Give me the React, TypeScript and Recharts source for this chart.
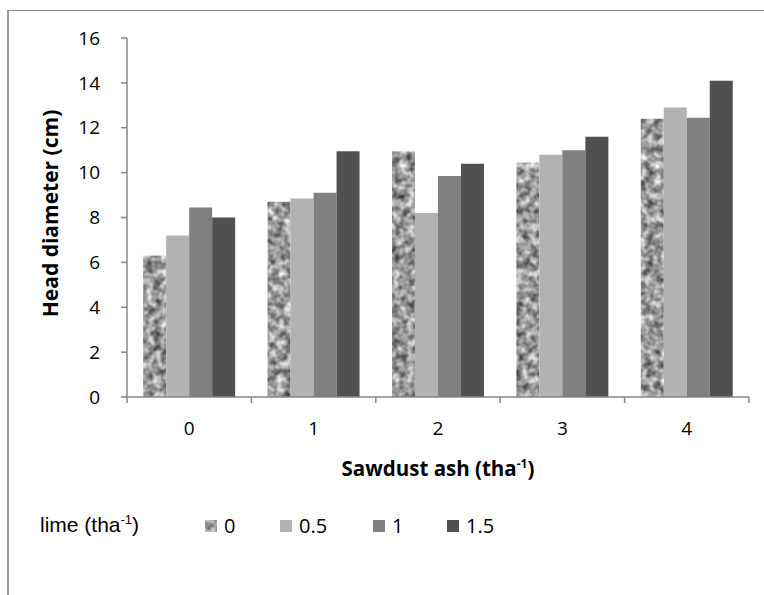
import React from 'react';
import { BarChart, Bar, XAxis, YAxis, Legend, Label } from 'recharts';

const categories = ['0', '1', '2', '3', '4'];
const lime0 = [6.3, 8.7, 10.95, 10.45, 12.4];
const lime05 = [7.2, 8.85, 8.2, 10.8, 12.9];
const lime1 = [8.45, 9.1, 9.85, 11.0, 12.45];
const lime15 = [8.0, 10.95, 10.4, 11.6, 14.1];
const limeLevels = ['0', '0.5', '1', '1.5'];
const yTicks = [0, 2, 4, 6, 8, 10, 12, 14, 16];
const boundaryTicks = [-0.5, 0.5, 1.5, 2.5, 3.5, 4.5];

const data = categories.map((c, i) => ({
  ash: c,
  l0: lime0[i],
  l05: lime05[i],
  l1: lime1[i],
  l15: lime15[i],
}));

const FONT = '"Open Sans", sans-serif';
const AXIS = '#868686';
const COLORS = ['#a9a9a9', '#b2b2b2', '#808080', '#505050'];
const KEYS = ['l0', 'l05', 'l1', 'l15'];

const GraniteFilter = ({ id, seed }: { id: string; seed: number }) => (
  <filter id={id} x="0" y="0" width="1" height="1" filterUnits="objectBoundingBox" colorInterpolationFilters="sRGB">
    <feTurbulence type="fractalNoise" baseFrequency="0.13" numOctaves={2} seed={seed} result="n" />
    <feColorMatrix
      in="n"
      type="matrix"
      values="1.05 0 0 0 0.08  1.05 0 0 0 0.08  1.05 0 0 0 0.08  0 0 0 0 1"
      result="g"
    />
    <feComposite in="g" in2="SourceGraphic" operator="in" />
  </filter>
);

const GraniteBar = (props: any) => {
  const { x, y, width, height, index } = props;
  if (!height || height <= 0) return null;
  const id = `granite-${index}`;
  return (
    <g>
      <defs>
        <GraniteFilter id={id} seed={index + 2} />
      </defs>
      <rect x={x} y={y} width={width} height={height} fill="#a9a9a9" filter={`url(#${id})`} />
    </g>
  );
};

const legendLeft = [205, 280, 373, 447];

const LegendContent = () => (
  <div style={{ position: 'relative', width: 764, height: 30, fontFamily: FONT, fontSize: 20, color: '#000' }}>
    <span
      style={{
        position: 'absolute',
        left: 40,
        top: 0,
        fontFamily: '"Liberation Sans", Arial, sans-serif',
        fontSize: 21,
        whiteSpace: 'nowrap',
      }}
    >
      lime (tha<sup style={{ fontSize: 13 }}>-1</sup>)
    </span>
    {limeLevels.map((lv, i) => (
      <span key={lv} style={{ position: 'absolute', left: legendLeft[i], top: 0, whiteSpace: 'nowrap', display: 'flex', alignItems: 'center' }}>
        {i === 0 ? (
          <svg width={12} height={12} style={{ display: 'block' }}>
            <defs>
              <GraniteFilter id="granite-legend" seed={7} />
            </defs>
            <rect x={0} y={0} width={12} height={12} fill="#aaa" filter="url(#granite-legend)" />
          </svg>
        ) : (
          <span style={{ display: 'block', width: 12, height: 12, background: COLORS[i] }} />
        )}
        <span style={{ marginLeft: 7, lineHeight: '28px' }}>{lv}</span>
      </span>
    ))}
  </div>
);

const XTitle = (props: any) => {
  const vb = props.viewBox || {};
  const cx = vb.x + vb.width / 2;
  return (
    <text x={cx} y={476} textAnchor="middle" fontFamily={FONT} fontSize={20.5} fontWeight="bold" fill="#000">
      Sawdust ash (tha
      <tspan fontSize={12} dy={-8}>-1</tspan>
      <tspan dy={8}>)</tspan>
    </text>
  );
};

const YTitle = (props: any) => {
  const vb = props.viewBox || {};
  const cy = vb.y + vb.height / 2;
  return (
    <text
      x={0}
      y={0}
      transform={`translate(58, ${cy - 4}) rotate(-90)`}
      textAnchor="middle"
      fontFamily={FONT}
      fontSize={21}
      fontWeight="bold"
      fill="#000"
    >
      Head diameter (cm)
    </text>
  );
};

export default function App() {
  return (
    <div style={{ position: 'absolute', left: 0, top: 0, width: 764, height: 595, background: '#fff', overflow: 'hidden' }}>
      <div
        style={{
          position: 'absolute',
          left: 7,
          top: 10,
          width: 800,
          height: 600,
          borderTop: '1px solid #8a8a8a',
          borderLeft: '2px solid #9a9a9a',
        }}
      />
      <div style={{ position: 'absolute', left: 0, top: 0 }}>
        <BarChart
          width={764}
          height={595}
          data={data}
          margin={{ top: 38, right: 15, bottom: 167, left: 0 }}
          barCategoryGap="13%"
          barGap={0}
        >
          <XAxis
            xAxisId="a"
            type="number"
            dataKey="none"
            domain={[-0.5, 4.5]}
            ticks={boundaryTicks}
            allowDataOverflow
            height={1}
            axisLine={{ stroke: AXIS, strokeWidth: 1.5 }}
            tickLine={{ stroke: AXIS, strokeWidth: 1.5 }}
            tickSize={6}
            tick={{ fill: 'none', fontSize: 1 }}
          />
          <XAxis
            xAxisId="b"
            dataKey="ash"
            height={30}
            axisLine={false}
            tickLine={false}
            tickSize={6}
            tickMargin={18}
            interval={0}
            tick={{ fill: '#000', fontFamily: FONT, fontSize: 19 }}
          >
            <Label content={<XTitle />} />
          </XAxis>
          <YAxis
            width={127}
            domain={[0, 16]}
            ticks={yTicks}
            interval={0}
            axisLine={{ stroke: AXIS, strokeWidth: 1.5 }}
            tickLine={{ stroke: AXIS, strokeWidth: 1.5 }}
            tickSize={6}
            tickMargin={21}
            tick={{ fill: '#000', fontFamily: FONT, fontSize: 19 }}
          >
            <Label content={<YTitle />} />
          </YAxis>
          <Legend
            layout="horizontal"
            verticalAlign="middle"
            align="center"
            wrapperStyle={{ position: 'absolute', left: 0, top: 512, width: 764 }}
            content={<LegendContent />}
          />
          {KEYS.map((k, i) => (
            <Bar
              key={k}
              xAxisId="b"
              dataKey={k}
              name={limeLevels[i]}
              fill={COLORS[i]}
              isAnimationActive={false}
              shape={i === 0 ? <GraniteBar /> : undefined}
            />
          ))}
        </BarChart>
      </div>
    </div>
  );
}
